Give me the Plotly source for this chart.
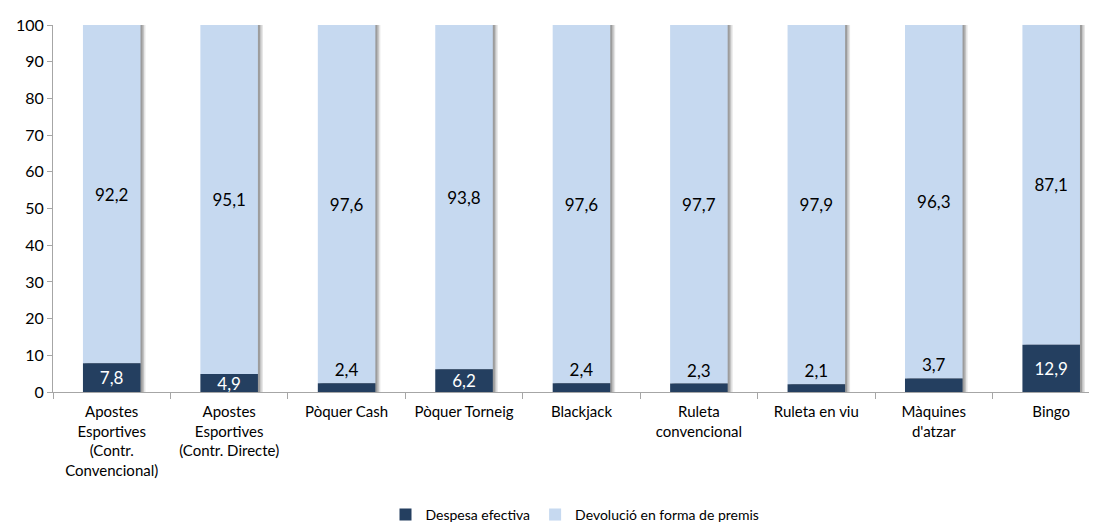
import plotly.graph_objects as go

categories = ["Apostes<br>Esportives<br>(Contr.<br>Convencional)", "Apostes<br>Esportives<br>(Contr. Directe)",
              "Pòquer Cash", "Pòquer Torneig", "Blackjack", "Ruleta<br>convencional",
              "Ruleta en viu", "Màquines<br>d'atzar", "Bingo"]
despesa = [7.8, 4.9, 2.4, 6.2, 2.4, 2.3, 2.1, 3.7, 12.9]
devolucio = [92.2, 95.1, 97.6, 93.8, 97.6, 97.7, 97.9, 96.3, 87.1]

dark = "#243F60"
light = "#C6D9F0"
font = "Lato, 'Open Sans', sans-serif"

bw = 0.49
px = 1 / 117.4  # approx category units per pixel

fig = go.Figure()

# soft shadow to the right of each bar
for a, op in [(5, 0.10), (3.5, 0.15), (2, 0.2)]:
    fig.add_trace(go.Bar(x=categories, y=[d + v for d, v in zip(despesa, devolucio)],
                         width=bw, offset=-bw / 2 + a * px, marker_color=f"rgba(0,0,0,{op})",
                         marker_line_width=0, showlegend=False, hoverinfo="skip"))

fig.add_trace(go.Bar(x=categories, y=devolucio, base=despesa, width=bw,
                     name="Devolució en forma de premis", marker_color=light, marker_line_width=0,
                     text=[f"{v:.1f}".replace(".", ",") for v in devolucio],
                     textposition="inside", insidetextanchor="middle",
                     textfont=dict(color="black", size=17, family=font), legendrank=2))

fig.add_trace(go.Bar(x=categories, y=despesa, width=bw,
                     name="Despesa efectiva", marker_color=dark, marker_line_width=0,
                     text=[f"{v:.1f}".replace(".", ",") for v in despesa],
                     textposition=["inside" if v >= 4.5 else "outside" for v in despesa],
                     insidetextanchor="middle", constraintext="none",
                     insidetextfont=dict(color="white", size=17, family=font),
                     outsidetextfont=dict(color="black", size=17, family=font),
                     cliponaxis=False, legendrank=1))

# page body has an 8px margin, so the figure is sized to fit the window
fig.update_layout(
    width=1089, height=517,
    barmode="overlay",
    plot_bgcolor="white", paper_bgcolor="white",
    margin=dict(l=45, r=0, t=17, b=133, autoexpand=False),
    font=dict(family=font, size=15, color="black"),
    uniformtext=dict(minsize=17, mode="show"),
    xaxis=dict(range=[-0.5, 8.39], showline=True, linecolor="#A6A6A6", linewidth=1,
               ticks="outside", tickson="boundaries", ticklen=6, tickcolor="#A6A6A6",
               tickfont=dict(size=15), showgrid=False, automargin=False,
               ticklabelstandoff=6),
    yaxis=dict(range=[0, 100], dtick=10, showline=True, linecolor="#A6A6A6", linewidth=1,
               ticks="outside", ticklen=5, tickcolor="#A6A6A6", showgrid=False,
               zeroline=False, tickfont=dict(size=16), automargin=False),
    legend=dict(orientation="h", x=0.5, xanchor="center", y=-0.335, yanchor="middle",
                font=dict(size=14), itemwidth=30, traceorder="normal"),
)

fig.write_html("out.html")
